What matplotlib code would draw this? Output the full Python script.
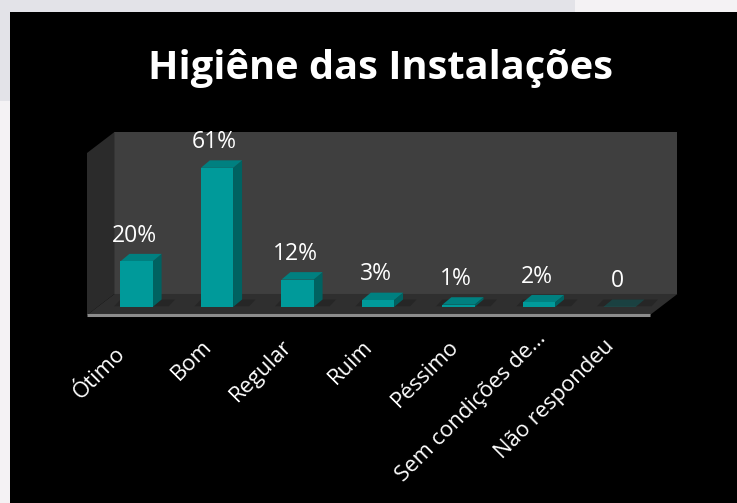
#!/usr/bin/env python3
import matplotlib
matplotlib.use("Agg")
import matplotlib.pyplot as plt
from matplotlib.patches import Polygon, Rectangle
from matplotlib.transforms import ScaledTranslation

# --------------------- data ---------------------
categories = ["Ótimo", "Bom", "Regular", "Ruim", "Péssimo", "Sem condições de…", "Não respondeu"]
values = [20, 61, 12, 3, 1, 2, 0]
labels = ["20%", "61%", "12%", "3%", "1%", "2%", "0"]
# ------------------------------------------------

W, H = 737, 503
plt.rcParams["font.family"] = ["Open Sans", "DejaVu Sans"]

fig = plt.figure(figsize=(W / 100, H / 100), dpi=100, facecolor="#e3e3e8")

# pale strips of the slide background, then the black panel
fig.add_artist(Rectangle((0, 0), 10 / W, 0.8, transform=fig.transFigure,
                         facecolor="#f4f2f4", edgecolor="none", zorder=-3))
fig.add_artist(Rectangle((0.78, 1 - 12 / H), 0.22, 12 / H, transform=fig.transFigure,
                         facecolor="#f4f2f4", edgecolor="none", zorder=-3))
fig.add_artist(Rectangle((10 / W, 0), 1 - 10 / W, 1 - 12 / H, transform=fig.transFigure,
                         facecolor="black", edgecolor="none", zorder=-2))

# axes = front plane of the 3d box
ax = fig.add_axes([87 / W, (H - 315) / H, 563 / W, 162 / H])
ax.set_xlim(-0.615, 6.38)
ax.set_ylim(-3.5, 67.5)
ax.patch.set_alpha(0)
for s in ax.spines.values():
    s.set_visible(False)

# depth of walls and bars in data units
wall_dx, wall_dy = 27.5 / 80.5, 21 / 2.28
bar_dx, bar_dy = 9 / 80.5, 7.5 / 2.28
y0, y1 = ax.get_ylim()
x0, x1 = ax.get_xlim()


def poly(pts, color, z=1, **kw):
    ax.add_patch(Polygon(pts, closed=True, facecolor=color, edgecolor="none",
                         zorder=z, clip_on=False, **kw))


poly([(x0 + wall_dx, y0 + wall_dy), (x1 + wall_dx, y0 + wall_dy),
      (x1 + wall_dx, y1 + wall_dy), (x0 + wall_dx, y1 + wall_dy)], "#3f3f3f")
poly([(x0, y0), (x0 + wall_dx, y0 + wall_dy), (x0 + wall_dx, y1 + wall_dy), (x0, y1)], "#2b2b2b")
poly([(x0, y0), (x1, y0), (x1 + wall_dx, y0 + wall_dy), (x0 + wall_dx, y0 + wall_dy)], "#2f2f2f")

width = 0.4
for i, v in enumerate(values):
    l, r = i - width / 2, i + width / 2
    alpha = 0.3 if v == 0 else 1
    # shadow on the floor
    poly([(l - 0.08, 0.3), (r + 0.2, 0.3), (r + 0.28, bar_dy), (l, bar_dy)], "#262626", z=2)
    poly([(r, 0), (r + bar_dx, bar_dy), (r + bar_dx, v + bar_dy), (r, v)], "#006261", z=3, alpha=alpha)
    poly([(l, v), (r, v), (r + bar_dx, v + bar_dy), (l + bar_dx, v + bar_dy)], "#008080", z=3, alpha=alpha)
    ax.bar(i, v, width=width, color="#009a9a", zorder=4, alpha=alpha)

# grey front edge
ax.plot([x0, x1], [y0, y0], color="#8c8c8c", lw=2.2, zorder=6, clip_on=False, solid_capstyle="butt")

for i, v in enumerate(values):
    ax.text(i - 0.03, v + 6.0, labels[i], color="white", fontsize=16.5,
            ha="center", va="bottom", zorder=7)

ax.set_xticks(range(len(categories)))
ax.set_xticklabels(categories, rotation=45, ha="right", rotation_mode="anchor",
                   color="white", fontsize=15.8)
ax.set_yticks([])
ax.tick_params(axis="x", length=0, pad=15)

# tick labels sit left of their category, a few are nudged further (pixels)
nudge_x = [-22, -16, -16, -16, -10, -4, -16]
nudge_y = [-8, 0, 0, 0, 0, 8, 0]
for t, nx, ny in zip(ax.get_xticklabels(), nudge_x, nudge_y):
    t.set_transform(t.get_transform() + ScaledTranslation(nx / 100, ny / 100, fig.dpi_scale_trans))

fig.text(380 / W, 1 - 68 / H, "Higiêne das Instalações", color="white", fontsize=28.6,
         fontweight="bold", ha="center", va="center")

fig.savefig("out.png", dpi=100, facecolor=fig.get_facecolor())
